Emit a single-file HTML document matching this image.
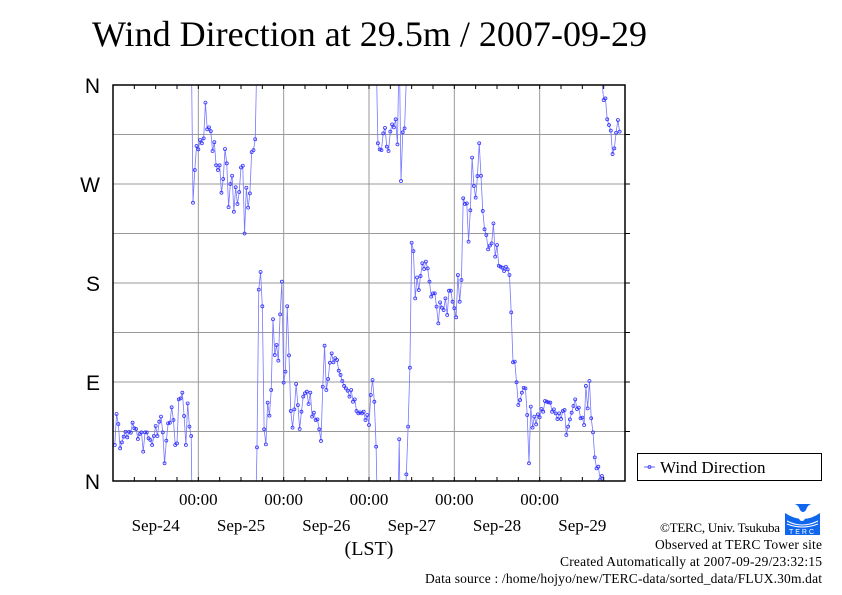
<!DOCTYPE html>
<html><head><meta charset="utf-8"><style>
body{margin:0;background:#fff;}
svg{display:block;font-family:"Liberation Serif",serif;}
</style></head><body>
<svg id="chart" width="842" height="595" viewBox="0 0 842 595" xmlns="http://www.w3.org/2000/svg">
<text x="92" y="46" font-size="36" textLength="555">Wind Direction at 29.5m / 2007-09-29</text>
<defs><clipPath id="pc"><rect x="113" y="85" width="512" height="396"/></clipPath></defs>
<g id="grid"></g>
<g id="series" clip-path="url(#pc)"></g>
<rect x="113" y="85" width="512" height="396" fill="none" stroke="#000" stroke-width="1.5"/>
<g id="axes"></g>
<text x="369" y="555" font-size="20" text-anchor="middle">(LST)</text>
<g>
<rect x="637.5" y="453.5" width="184" height="27" fill="#fff" stroke="#000" stroke-width="1"/>
<line x1="644" y1="467" x2="655" y2="467" stroke="#6666ff" stroke-width="1"/>
<circle cx="649.5" cy="467" r="1.5" fill="none" stroke="#3333ff" stroke-width="0.8"/>
<text x="660" y="473" font-size="17">Wind Direction</text>
</g>
<g>
<rect x="785" y="504" width="35" height="31" fill="#1166ee"/>
<path d="M785 504 h9 q4 0 6 6 q3 4 6 0 q2-6 6-6 h8 v9 q-17 12-35 0 z" fill="#fff"/>
<path d="M802 513 l-3 5 a3 3 0 0 0 6 0 z" fill="#fff"/>
<path d="M787 521 q15 8 31 0" stroke="#fff" fill="none" stroke-width="1"/>
<path d="M787 524 q15 6 31 0" stroke="#fff" fill="none" stroke-width="1"/>
<text x="802.5" y="534" font-size="7" fill="#fff" text-anchor="middle" font-family="Liberation Sans" letter-spacing="2">TERC</text>
</g>
<g font-size="13.5" text-anchor="end">
<text x="780" y="532" font-size="13" textLength="120">©TERC, Univ. Tsukuba</text>
<text x="822" y="549" textLength="167">Observed at TERC Tower site</text>
<text x="822" y="566" textLength="262">Created Automatically at 2007-09-29/23:32:15</text>
<text x="822" y="583" textLength="397">Data source : /home/hojyo/new/TERC-data/sorted_data/FLUX.30m.dat</text>
</g>
</svg>
<script>
const dayLabels=["Sep-24","Sep-25","Sep-26","Sep-27","Sep-28","Sep-29"];
const yTickLabels=["N","E","S","W","N"];
const yTickValues=[0,90,180,270,360];
const direction=[32.7,60.9,51.8,29.7,35.1,40.3,44.8,39.7,44.8,43.9,53,47.9,47.3,38.2,42.7,44.2,26.7,44.2,44.2,38.8,37.3,32.7,40.9,50,40.9,53.9,58.5,44.2,16.1,36.7,52.4,53,67,55.4,32.7,34.2,74.2,75.1,80.3,59.1,32.7,70.6,49.4,40.9,
253,282.7,304.5,301.5,310,307,311.5,344,319.7,321.5,318,300,308,287,282.7,287,262,274.5,301.8,288.8,249,270,277.5,244.8,267,251.8,262.7,285,286.6,225,
266.6,248.5,261.5,299,300.8,310.7,30.6,174,190,158.8,47,33.3,71.2,59.4,82.7,147,114.5,123.6,109.4,151.5,181.2,89.4,99.4,158.8,114.2,63.6,48.5,65.1,88.2,69,47.3,63,76.7,79.7,81.2,70,80.3,58.5,62.1,55.4,56,47,36.4,85.7,123,82.7,92.7,107.5,116,107.9,111.6,110,100.3,96.4,90.9,86.4,84.2,82.1,76.7,82.7,72.1,74.2,63.6,61.5,62.4,61.5,63,55.4,60,50.9,78.2,91.8,
72.1,31.2,307,301.5,300.8,316,321,304,300,317.6,324.2,321.5,328.8,306,37.9,272.7,317,320.6,6,49.4,103,216.6,209,166,185,173.6,186.3,197.9,192.7,199.4,193.3,181.2,167.6,170.6,170.6,158.5,143.3,162.4,157.6,155.4,166,150.9,173,173,163,157,148.8,187.2,163,182.7,257,251.8,252.4,217.6,246.1,294,268.2,257.6,277.2,307,277.5,245.5,228.8,223.6,210.6,214,216,234.2,204,214.5,
195.7,194.8,193.9,190.9,194.8,192.4,187.3,153.3,107.9,108.5,89.7,69.1,73.6,80.3,84.8,84.2,60,16.1,67.6,48.5,58.5,51.5,60.6,57.9,65.4,63,72.7,72.1,71.5,71.2,63,65.1,61.5,56.4,61.5,56.4,63.6,64.5,41.8,49.4,56,62.1,68.2,74.2,65.4,66.7,57,57.6,50.9,86.4,66,90.9,57,44.2,21.5,11.5,13,0.9,4.5,346.3,347.8,328.8,323.6,318.5,297.2,302.4,316.6,328.2,317.6];

const NS="http://www.w3.org/2000/svg";
const X0=113,X1=625,Y0=481,Y1=85,DAYS=6;
const xOf=h=>X0+(h/(DAYS*24))*(X1-X0);
const yOf=d=>Y0-(d/360)*(Y0-Y1);
function mk(tag,attrs,parent){const e=document.createElementNS(NS,tag);for(const k in attrs)e.setAttribute(k,attrs[k]);parent.appendChild(e);return e;}
const grid=document.getElementById('grid'),axes=document.getElementById('axes'),ser=document.getElementById('series');
for(let d=45;d<360;d+=45){const l=mk('line',{x1:X0,x2:X1,y1:yOf(d),y2:yOf(d),stroke:'#999','stroke-width':1},grid);


const t=mk('line',{x1:X1,x2:X1+5,y1:yOf(d),y2:yOf(d),stroke:'#000','stroke-width':1},axes);

}
yTickValues.forEach((v,i)=>{const t=mk('text',{x:100,y:yOf(v)+8,'font-size':21,'text-anchor':'end','font-family':'Liberation Sans'},axes);t.textContent=yTickLabels[i];

});
for(let h=6;h<DAYS*24;h+=6){const x=xOf(h);
if(h%24===0){const g=mk('line',{x1:x,x2:x,y1:Y1,y2:Y0,stroke:'#999','stroke-width':1},grid);


const t=mk('text',{x:x,y:505,'font-size':17,'text-anchor':'middle'},axes);t.textContent='00:00';

}
[[Y0,Y0-4],[Y1,Y1+4]].forEach(p=>{const t=mk('line',{x1:x,x2:x,y1:p[0],y2:p[1],stroke:'#000','stroke-width':1},axes);

});}
dayLabels.forEach((s,i)=>{const t=mk('text',{x:xOf(i*24+12),y:531,'font-size':17,'text-anchor':'middle'},axes);t.textContent=s;

});
let dstr='';
const px=i=>xOf(0.5+i*0.5);
for(let i=0;i<direction.length-1;i++){const a=direction[i],b=direction[i+1],xa=px(i),xb=px(i+1);
const diff=b-a;
if(Math.abs(diff)<=180){dstr+=`M${xa},${yOf(a)}L${xb},${yOf(b)}`;}
else{const s=diff>0?-360:360;dstr+=`M${xa},${yOf(a)}L${xb},${yOf(b+s)}M${xa},${yOf(a-s)}L${xb},${yOf(b)}`;}}
const line=mk('path',{d:dstr,fill:'none',stroke:'#7777ff','stroke-width':0.8},ser);


direction.forEach((v,i)=>{const c=mk('circle',{cx:px(i),cy:yOf(v),r:1.5,fill:'none',stroke:'#3333ff','stroke-width':0.8},ser);

});
</script>
</body></html>
